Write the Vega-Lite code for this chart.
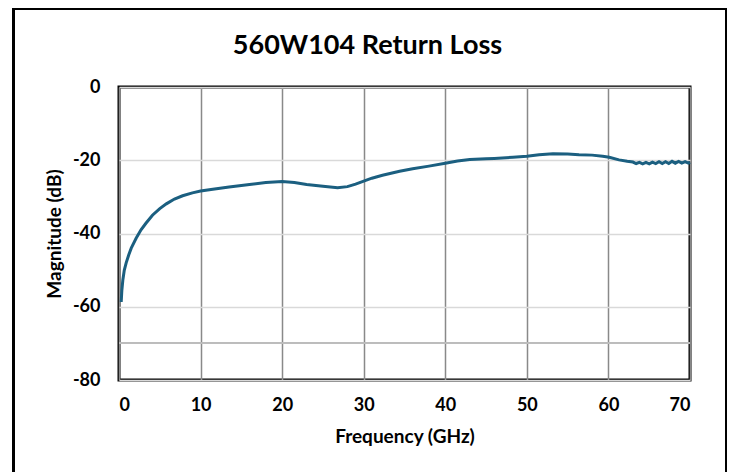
{
  "$schema": "https://vega.github.io/schema/vega-lite/v6.json",
  "width": 571,
  "height": 293,
  "autosize": {"type": "none"},
  "padding": {"left": 119, "top": 87, "right": 42, "bottom": 92},
  "background": "white",
  "title": {
    "text": "560W104 Return Loss",
    "font": "Lato",
    "fontSize": 27,
    "fontWeight": "bold",
    "color": "black",
    "anchor": "middle",
    "dx": -37,
    "offset": -52
  },
  "config": {
    "view": {"stroke": "black", "strokeWidth": 3},
    "axis": {
      "labelFont": "Lato",
      "labelFontSize": 18,
      "labelFontWeight": "bold",
      "labelColor": "black",
      "titleFont": "Lato",
      "titleFontSize": 19,
      "titleFontWeight": "bold",
      "titleColor": "black",
      "ticks": false,
      "domain": false
    }
  },
  "data": {
    "values": [
      {"f": 0.27, "db": -58.7}, {"f": 0.35, "db": -55.5}, {"f": 0.47, "db": -52.7}, {"f": 0.65, "db": -50},
      {"f": 0.88, "db": -48}, {"f": 1.2, "db": -45.8}, {"f": 1.5, "db": -44}, {"f": 2.1, "db": -41.3},
      {"f": 2.7, "db": -39}, {"f": 3.3, "db": -37.2}, {"f": 4.1, "db": -35}, {"f": 5.0, "db": -33.2},
      {"f": 5.8, "db": -31.9}, {"f": 6.8, "db": -30.6}, {"f": 7.8, "db": -29.7}, {"f": 9.0, "db": -28.9},
      {"f": 10, "db": -28.4}, {"f": 11.5, "db": -27.9}, {"f": 13.5, "db": -27.3},
      {"f": 16, "db": -26.6}, {"f": 18, "db": -26.1}, {"f": 20, "db": -25.8}, {"f": 21.5, "db": -26.1},
      {"f": 23, "db": -26.6}, {"f": 25, "db": -27.1}, {"f": 26.8, "db": -27.5}, {"f": 28, "db": -27.2},
      {"f": 29, "db": -26.5}, {"f": 30, "db": -25.7}, {"f": 31, "db": -24.9}, {"f": 32.3, "db": -24.1},
      {"f": 34.4, "db": -23.0}, {"f": 36, "db": -22.3}, {"f": 38, "db": -21.6}, {"f": 40, "db": -20.8},
      {"f": 41.5, "db": -20.2}, {"f": 43, "db": -19.8}, {"f": 45, "db": -19.6}, {"f": 46, "db": -19.5},
      {"f": 48.3, "db": -19.2}, {"f": 50, "db": -18.9}, {"f": 51.5, "db": -18.5}, {"f": 53.2, "db": -18.2},
      {"f": 55, "db": -18.3}, {"f": 56.4, "db": -18.5}, {"f": 58, "db": -18.6}, {"f": 59.3, "db": -18.9},
      {"f": 60.1, "db": -19.2}, {"f": 61.3, "db": -19.9}, {"f": 62.3, "db": -20.3}, {"f": 63.0, "db": -20.5},
      {"f": 63.4, "db": -20.9}, {"f": 63.8, "db": -20.6}, {"f": 64.2, "db": -21.0}, {"f": 64.6, "db": -20.6},
      {"f": 65.0, "db": -21.0}, {"f": 65.4, "db": -20.5}, {"f": 65.8, "db": -20.9}, {"f": 66.2, "db": -20.4},
      {"f": 66.6, "db": -20.9}, {"f": 67.0, "db": -20.4}, {"f": 67.4, "db": -20.9}, {"f": 67.8, "db": -20.3},
      {"f": 68.2, "db": -20.8}, {"f": 68.6, "db": -20.3}, {"f": 69.0, "db": -20.8}, {"f": 69.4, "db": -20.4},
      {"f": 69.8, "db": -20.8}, {"f": 70.0, "db": -20.6}
    ]
  },
  "layer": [
    {
      "mark": {"type": "rect", "fill": null, "stroke": "black", "strokeWidth": 1.5, "clip": false},
      "encoding": {
        "x": {"datum": -12.93, "type": "quantitative"},
        "x2": {"datum": 74.4},
        "y": {"datum": 21.3, "type": "quantitative"},
        "y2": {"datum": -110}
      }
    },
    {
      "mark": {"type": "rule", "color": "#bdbdbd", "strokeWidth": 1.2},
      "encoding": {"y": {"datum": -70, "type": "quantitative"}}
    },
    {
      "mark": {"type": "line", "color": "#1b5f80", "strokeWidth": 3, "interpolate": "linear"},
      "encoding": {
        "x": {
          "field": "f",
          "type": "quantitative",
          "scale": {"domain": [0, 70], "nice": false},
          "axis": {
            "title": "Frequency (GHz)",
            "values": [0, 10, 20, 30, 40, 50, 60, 70],
            "grid": true,
            "gridColor": "#898989",
            "gridWidth": 1.5,
            "labelPadding": 16,
            "titlePadding": 13
          }
        },
        "y": {
          "field": "db",
          "type": "quantitative",
          "scale": {"domain": [-80, 0], "nice": false},
          "axis": {
            "title": "Magnitude (dB)",
            "values": [-80, -60, -40, -20, 0],
            "labelExpr": "'' + datum.value",
            "grid": true,
            "gridColor": "#d9d9d9",
            "gridWidth": 1.5,
            "labelPadding": 19,
            "titlePadding": 8
          }
        }
      }
    }
  ]
}
